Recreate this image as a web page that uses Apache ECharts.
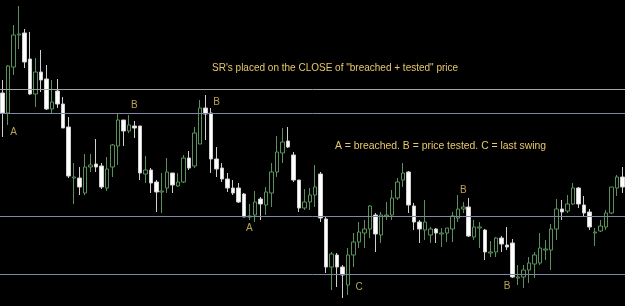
<!DOCTYPE html>
<html>
<head>
<meta charset="utf-8">
<script src="https://cdn.jsdelivr.net/npm/echarts@6/dist/echarts.min.js"></script>
<style>
  html, body { margin: 0; padding: 0; background: #000; }
  #chart { width: 625px; height: 306px; }
</style>
</head>
<body>
<div id="chart"></div>
<script>
  // candle values (arbitrary price units)
  const opens  = [213,193,239,271,273,247,212,234,227,197,215,202,179,128,128,113,139,142,140,118,139,160,186,175,180,180,132,136,124,114,118,133,120,124,148,140,162,198,193,147,138,127,118,118,112,89,91,107,101,113,134,153,165,151,126,98,104,111,132,87,39,51,39,21,51,64,73,77,91,71,90,91,108,126,134,100,84,76,71,77,72,73,77,88,97,99,69,78,76,53,54,68,61,63,28,29,36,42,43,56,56,77,97,95,102,118,101,94,73,75,79,93,118,129]
  const closes = [193,240,271,272,244,212,234,226,197,204,202,178,130,129,119,139,141,139,119,137,161,186,175,181,178,133,136,123,114,115,134,121,124,148,138,173,198,192,147,137,127,118,113,104,89,90,104,102,114,134,154,164,159,126,98,104,111,119,88,39,52,39,31,51,64,74,77,100,72,91,91,108,124,133,101,84,77,84,77,73,73,78,90,97,99,70,79,79,54,54,68,62,59,29,29,36,43,51,58,57,77,97,94,102,118,102,93,79,74,80,93,119,129,119]
  const lows   = [169,181,231,257,238,211,199,214,196,193,198,178,128,102,111,111,134,134,117,115,129,141,160,173,168,126,123,113,94,93,113,113,119,123,136,138,162,166,133,129,124,114,111,103,89,86,84,86,91,99,129,143,158,124,94,96,96,99,84,33,16,19,8,11,39,58,58,68,54,63,86,86,106,119,93,76,63,66,63,63,59,64,64,84,93,69,66,58,46,49,49,54,56,28,21,18,23,28,41,46,36,66,86,93,101,98,89,76,60,74,76,92,110,113]
  const highs  = [226,241,281,300,277,274,248,256,241,226,227,209,189,143,139,152,152,167,143,149,162,193,186,191,185,180,150,138,126,133,148,133,133,151,155,179,206,211,198,159,143,133,126,123,113,102,115,109,119,143,170,178,179,154,126,117,118,141,134,89,54,53,41,58,73,84,86,101,93,94,104,116,128,143,135,103,86,106,79,78,78,78,94,111,104,108,86,84,77,65,69,70,79,67,41,41,49,54,73,66,82,107,106,111,123,119,110,97,78,86,96,119,131,139]

  // support / resistance levels
  const srLevels = [216.5, 192.5, 89.5, 31.5]

  // A / B / C markers: candle index, price, letter
  const markIdx   = [2, 24, 39, 45, 65, 84, 92]
  const markPrice = [174, 201, 204, 78, 19, 116, 20]
  const markText  = ['A', 'B', 'B', 'A', 'C', 'B', 'B']

  const categories = opens.map((_, i) => i + 1)
  const candles = opens.map((o, i) => [o, closes[i], lows[i], highs[i]])
  const marks = markIdx.map((idx, i) => ({ value: [idx, markPrice[i]], name: markText[i] }))

  const textColor = '#e8c86a'

  const chart = echarts.init(document.getElementById('chart'))
  chart.setOption({
    backgroundColor: '#000',
    animation: false,
    grid: { left: 0, right: 0, top: 0, bottom: 0 },
    xAxis: {
      type: 'category',
      data: categories,
      show: false
    },
    yAxis: {
      type: 'value',
      min: 0,
      max: 306,
      show: false,
      splitLine: { show: false }
    },
    graphic: [
      {
        type: 'text', left: 212, top: 63,
        style: {
          text: 'SR\'s placed on the CLOSE of "breached + tested" price',
          fill: textColor, font: '10px "Liberation Sans", sans-serif'
        }
      },
      {
        type: 'text', left: 335, top: 141,
        style: {
          text: 'A = breached. B = price tested. C = last swing',
          fill: textColor, font: '10.4px "Liberation Sans", sans-serif'
        }
      }
    ],
    series: [
      {
        type: 'candlestick',
        data: candles,
        barWidth: 4,
        itemStyle: {
          color: '#000',
          color0: '#ffffff',
          borderColor: '#58925a',
          borderColor0: '#cfcfcf',
          borderWidth: 1
        },
        markLine: {
          silent: true,
          symbol: 'none',
          label: { show: false },
          data: srLevels.map((v, i) => ({
            yAxis: v,
            lineStyle: { color: i === 0 ? '#a4a4a4' : '#7c88a6', width: 1, type: 'solid' }
          }))
        }
      },
      {
        type: 'scatter',
        data: marks,
        symbolSize: 0,
        label: {
          show: true,
          position: 'inside',
          formatter: p => p.name,
          color: textColor,
          fontSize: 10,
          fontFamily: '"Liberation Sans", sans-serif'
        }
      }
    ]
  })
</script>
</body>
</html>
